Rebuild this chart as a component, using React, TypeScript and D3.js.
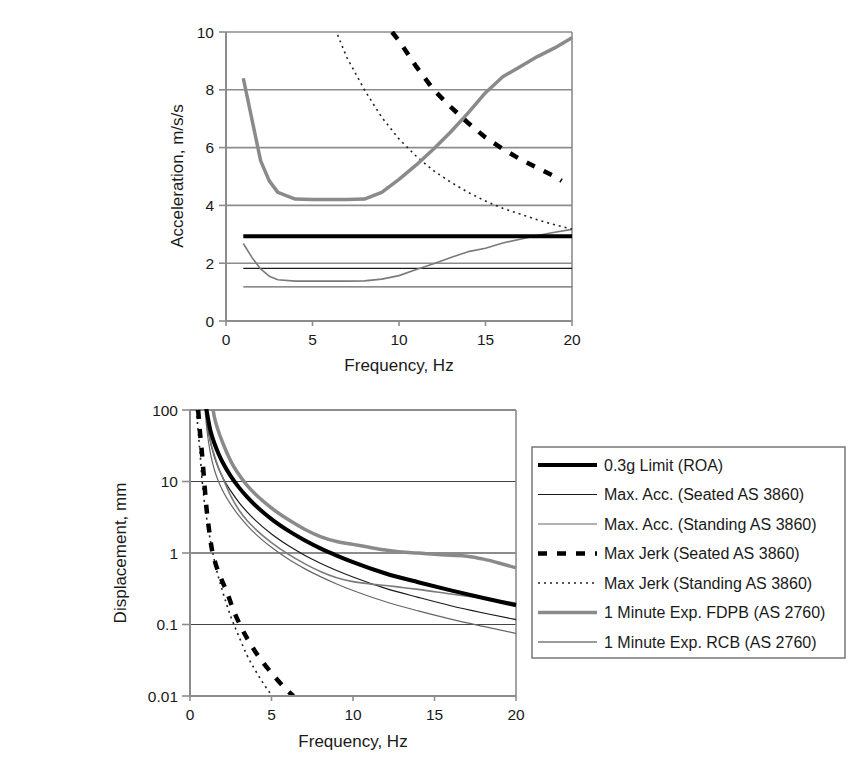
import React from "react";
import * as d3 from "d3";

// ---------- Top chart (acceleration) ----------
const topXTicks = [0, 5, 10, 15, 20];
const topYTicks = [0, 2, 4, 6, 8, 10];

const roaTopF = [1, 20];
const roaTopV = [2.93, 2.93];
const seatedTopF = [1, 20];
const seatedTopV = [1.82, 1.82];
const standingTopF = [1, 20];
const standingTopV = [1.18, 1.18];
const jerkSeatedTopF = [9.6, 10, 11, 12, 13, 14, 15, 16, 17, 18, 19, 19.4];
const jerkSeatedTopV = [10, 9.7, 8.8, 8.0, 7.4, 6.85, 6.35, 5.95, 5.6, 5.3, 5.0, 4.85];
const jerkStandingTopF = [6.45, 7, 8, 9, 10, 11, 12, 13, 14, 15, 16, 17, 18, 19, 20];
const jerkStandingTopV = [9.9, 9.1, 8.0, 7.05, 6.3, 5.7, 5.2, 4.8, 4.45, 4.15, 3.9, 3.7, 3.5, 3.33, 3.18];
const fdpbTopF = [1, 2, 2.5, 3, 4, 5, 6, 7, 8, 9, 10, 11, 12, 13, 14, 15, 16, 17, 18, 19, 20];
const fdpbTopV = [8.4, 5.55, 4.85, 4.45, 4.22, 4.2, 4.2, 4.2, 4.22, 4.45, 4.9, 5.4, 5.95, 6.55, 7.2, 7.9, 8.45, 8.8, 9.15, 9.45, 9.8];
const rcbTopF = [1, 1.5, 2, 2.5, 3, 4, 5, 6, 7, 8, 9, 10, 11, 12, 13, 14, 15, 16, 17, 18, 19, 20];
const rcbTopV = [2.68, 2.2, 1.8, 1.55, 1.43, 1.38, 1.38, 1.38, 1.38, 1.39, 1.45, 1.57, 1.78, 1.98, 2.2, 2.4, 2.52, 2.7, 2.83, 2.96, 3.07, 3.17];

// ---------- Bottom chart (displacement, log) ----------
const botXTicks = [0, 5, 10, 15, 20];
const botYTicks = [0.01, 0.1, 1, 10, 100];
const botYLabels = ["0.01", "0.1", "1", "10", "100"];

const roaBotF = [1, 1.25, 1.5, 1.75, 2, 2.5, 3, 3.5, 4, 5, 6, 7, 8, 9, 10, 12, 14, 16, 18, 20];
const roaBotV = [105, 52, 34, 24.5, 18.6, 11.9, 8.28, 6.08, 4.66, 2.98, 2.07, 1.52, 1.16, 0.92, 0.745, 0.517, 0.39, 0.3, 0.235, 0.186];
const seatedBotF = [0.95, 1.1, 1.25, 1.5, 1.75, 2, 2.5, 3, 3.5, 4, 5, 6, 7, 8, 9, 10, 12, 14, 16, 18, 20];
const seatedBotV = [100, 55, 36, 22, 15.3, 11.5, 7.38, 5.12, 3.76, 2.88, 1.84, 1.28, 0.94, 0.72, 0.569, 0.461, 0.32, 0.24, 0.183, 0.145, 0.117];
const standingBotF = [0.92, 1.05, 1.25, 1.5, 1.75, 2, 2.5, 3, 3.5, 4, 5, 6, 7, 8, 9, 10, 12, 14, 16, 18, 20];
const standingBotV = [100, 50, 25, 14.5, 10, 7.47, 4.78, 3.32, 2.44, 1.87, 1.2, 0.83, 0.61, 0.467, 0.369, 0.299, 0.208, 0.155, 0.119, 0.094, 0.075];
const jerkSeatedBotF = [0.5, 0.6, 0.72, 0.86, 1.0, 1.17, 1.33, 1.53, 1.94, 2.25, 2.66, 3.17, 4.0, 5.0, 6.1, 6.35];
const jerkSeatedBotV = [100, 52, 27, 11, 4.5, 2.1, 1.17, 0.76, 0.42, 0.29, 0.16, 0.089, 0.042, 0.021, 0.0112, 0.01];
const jerkStandingBotF = [0.4, 0.5, 0.6, 0.72, 0.85, 1.0, 1.25, 1.6, 2.0, 2.5, 3.0, 3.5, 4.0, 4.5, 5.05];
const jerkStandingBotV = [100, 50, 28, 12, 6, 3.3, 1.5, 0.62, 0.29, 0.13, 0.068, 0.037, 0.023, 0.015, 0.01];
const fdpbBotF = [1.4, 1.5, 1.75, 2, 2.5, 3, 3.5, 4, 5, 6, 7, 8, 9, 10, 11, 12, 13, 14, 15, 16, 17, 18, 19, 20];
const fdpbBotV = [105, 79, 50, 35.1, 19.3, 12.5, 8.8, 6.68, 4.26, 2.96, 2.17, 1.7, 1.45, 1.32, 1.2, 1.1, 1.03, 1.0, 0.96, 0.93, 0.9, 0.82, 0.72, 0.62];
const rcbBotF = [0.98, 1.25, 1.5, 1.75, 2, 2.5, 3, 3.5, 4, 5, 6, 7, 8, 9, 10, 11, 12, 13, 14, 16, 18, 20];
const rcbBotV = [100, 37, 23, 15.5, 11.4, 6.3, 4.0, 2.85, 2.18, 1.4, 0.97, 0.715, 0.55, 0.45, 0.398, 0.37, 0.352, 0.33, 0.31, 0.267, 0.231, 0.2];

const legendLabels = [
  "0.3g Limit (ROA)",
  "Max. Acc. (Seated AS 3860)",
  "Max. Acc. (Standing AS 3860)",
  "Max Jerk (Seated AS 3860)",
  "Max Jerk (Standing AS 3860)",
  "1 Minute Exp. FDPB (AS 2760)",
  "1 Minute Exp. RCB (AS 2760)",
];

const FONT = "'Liberation Sans', Arial, Helvetica, sans-serif";

type Style = { stroke: string; width: number; dash?: string };
const styles: Style[] = [
  { stroke: "#000", width: 4 },
  { stroke: "#1a1a1a", width: 1.2 },
  { stroke: "#666", width: 1.2 },
  { stroke: "#000", width: 4.5, dash: "9,10" },
  { stroke: "#222", width: 1.6, dash: "2,4" },
  { stroke: "#8a8a8a", width: 3.5 },
  { stroke: "#7a7a7a", width: 1.6 },
];

function zip(f: number[], v: number[]): [number, number][] {
  return f.map((x, i) => [x, v[i]]);
}

export default function App() {
  // top scales
  const tx = d3.scaleLinear().domain([0, 20]).range([226, 572]);
  const ty = d3.scaleLinear().domain([0, 10]).range([321, 32]);
  // bottom scales
  const bx = d3.scaleLinear().domain([0, 20]).range([190, 516]);
  const by = d3.scaleLog().domain([0.01, 100]).range([696, 410]);

  const topLine = d3
    .line<[number, number]>()
    .x((d) => tx(d[0]))
    .y((d) => ty(d[1]))
    .curve(d3.curveLinear);
  const botLine = d3
    .line<[number, number]>()
    .x((d) => bx(d[0]))
    .y((d) => by(d[1]))
    .curve(d3.curveMonotoneX);

  const topSeries = [
    zip(roaTopF, roaTopV),
    zip(seatedTopF, seatedTopV),
    zip(standingTopF, standingTopV),
    zip(jerkSeatedTopF, jerkSeatedTopV),
    zip(jerkStandingTopF, jerkStandingTopV),
    zip(fdpbTopF, fdpbTopV),
    zip(rcbTopF, rcbTopV),
  ];
  const botSeries = [
    zip(roaBotF, roaBotV),
    zip(seatedBotF, seatedBotV),
    zip(standingBotF, standingBotV),
    zip(jerkSeatedBotF, jerkSeatedBotV),
    zip(jerkStandingBotF, jerkStandingBotV),
    zip(fdpbBotF, fdpbBotV),
    zip(rcbBotF, rcbBotV),
  ];
  // draw order: thin under thick
  const order = [2, 1, 6, 4, 5, 0, 3];

  const gridColor = "#8c8c8c";
  const textColor = "#1a1a1a";

  return (
    <svg width={861} height={766} style={{ display: "block", position: "absolute", left: 0, top: 0 }} fontFamily={FONT}>
      <defs>
        <clipPath id="clipTop">
          <rect x={226} y={31} width={347} height={291} />
        </clipPath>
        <clipPath id="clipBot">
          <rect x={190} y={409} width={327} height={288} />
        </clipPath>
      </defs>
      <rect width={861} height={766} fill="#fff" />

      {/* ===== Top chart ===== */}
      <g>
        {topYTicks.filter((t) => t > 0).map((t) => (
          <line key={t} x1={tx(0)} x2={tx(20)} y1={ty(t)} y2={ty(t)} stroke={gridColor} strokeWidth={1.6} />
        ))}
        <line x1={tx(20)} x2={tx(20)} y1={ty(10)} y2={ty(0)} stroke={gridColor} strokeWidth={1.6} />
        <g clipPath="url(#clipTop)">
          {order.map((i) => (
            <path
              key={i}
              d={topLine(topSeries[i]) || ""}
              fill="none"
              stroke={styles[i].stroke}
              strokeWidth={styles[i].width}
              strokeDasharray={styles[i].dash}
              strokeLinejoin="round"
            />
          ))}
        </g>
        <line x1={tx(0)} x2={tx(0)} y1={ty(10)} y2={ty(0)} stroke={gridColor} strokeWidth={2} />
        <line x1={tx(0)} x2={tx(20)} y1={ty(0)} y2={ty(0)} stroke={gridColor} strokeWidth={2} />
        {topYTicks.map((t) => (
          <g key={t}>
            <line x1={tx(0) - 7} x2={tx(0)} y1={ty(t)} y2={ty(t)} stroke={gridColor} strokeWidth={1.6} />
            <text x={214} y={ty(t)} dy="0.36em" textAnchor="end" fontSize={15.5} fill={textColor}>
              {t}
            </text>
          </g>
        ))}
        {topXTicks.map((t) => (
          <g key={t}>
            <line x1={tx(t)} x2={tx(t)} y1={ty(0)} y2={ty(0) + 5} stroke={gridColor} strokeWidth={1.6} />
            <text x={tx(t)} y={345} textAnchor="middle" fontSize={15.5} fill={textColor}>
              {t}
            </text>
          </g>
        ))}
        <text x={399} y={371} textAnchor="middle" fontSize={17} fill={textColor}>
          Frequency, Hz
        </text>
        <text transform={`translate(183, 176) rotate(-90)`} textAnchor="middle" fontSize={17} fill={textColor}>
          Acceleration, m/s/s
        </text>
      </g>

      {/* ===== Bottom chart ===== */}
      <g>
        {botYTicks.filter((t) => t > 0.01).map((t) => (
          <line
            key={t}
            x1={bx(0)}
            x2={bx(20)}
            y1={by(t)}
            y2={by(t)}
            stroke={t === 10 || t === 0.1 ? "#444" : gridColor}
            strokeWidth={t === 10 || t === 0.1 ? 1.2 : 1.8}
          />
        ))}
        <line x1={bx(20)} x2={bx(20)} y1={by(100)} y2={by(0.01)} stroke={gridColor} strokeWidth={1.6} />
        <g clipPath="url(#clipBot)">
          {order.map((i) => (
            <path
              key={i}
              d={botLine(botSeries[i]) || ""}
              fill="none"
              stroke={styles[i].stroke}
              strokeWidth={styles[i].width}
              strokeDasharray={styles[i].dash}
            />
          ))}
        </g>
        <line x1={bx(0)} x2={bx(0)} y1={by(100)} y2={by(0.01)} stroke={gridColor} strokeWidth={2} />
        <line x1={bx(0)} x2={bx(20)} y1={by(0.01)} y2={by(0.01)} stroke={gridColor} strokeWidth={2} />
        {botYTicks.map((t, i) => (
          <g key={t}>
            <line x1={bx(0) - 8} x2={bx(0)} y1={by(t)} y2={by(t)} stroke={gridColor} strokeWidth={1.6} />
            <text x={178} y={by(t)} dy="0.36em" textAnchor="end" fontSize={15.5} fill={textColor}>
              {botYLabels[i]}
            </text>
          </g>
        ))}
        {botXTicks.map((t) => (
          <g key={t}>
            <line x1={bx(t)} x2={bx(t)} y1={by(0.01)} y2={by(0.01) + 5} stroke={gridColor} strokeWidth={1.6} />
            <text x={bx(t)} y={720} textAnchor="middle" fontSize={15.5} fill={textColor}>
              {t}
            </text>
          </g>
        ))}
        <text x={353} y={747} textAnchor="middle" fontSize={17} fill={textColor}>
          Frequency, Hz
        </text>
        <text transform={`translate(126, 553) rotate(-90)`} textAnchor="middle" fontSize={17} fill={textColor}>
          Displacement, mm
        </text>
      </g>

      {/* ===== Legend ===== */}
      <g>
        <rect x={532} y={447} width={313} height={211} fill="#fff" stroke="#777" strokeWidth={1.5} />
        {legendLabels.map((lab, i) => {
          const y = 465 + i * 29.5;
          return (
            <g key={lab}>
              <line
                x1={538}
                x2={597}
                y1={y}
                y2={y}
                stroke={styles[i].stroke}
                strokeWidth={styles[i].width}
                strokeDasharray={styles[i].dash}
              />
              <text x={604} y={y} dy="0.36em" fontSize={16} fill={textColor}>
                {lab}
              </text>
            </g>
          );
        })}
      </g>
    </svg>
  );
}
